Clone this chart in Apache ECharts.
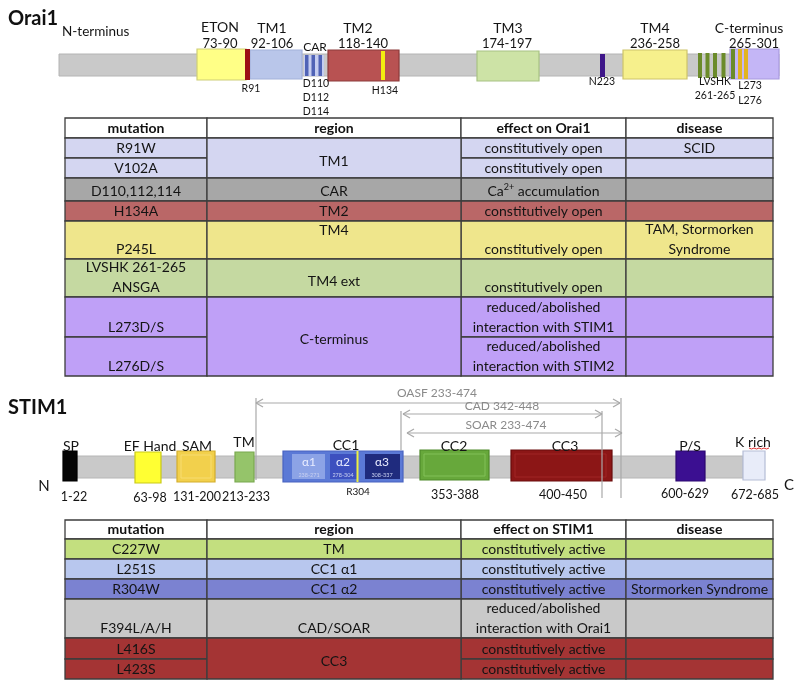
<!DOCTYPE html>
<html><head><meta charset="utf-8">
<script src="https://cdn.jsdelivr.net/npm/echarts@6/dist/echarts.min.js"></script>
<style>html,body{margin:0;padding:0;background:#fff}#c{width:800px;height:689px}</style>
</head><body><div id="c"></div>
<script>
// ================= DATA =================
// Orai1
const oraiTitle = 'Orai1';
const oraiDomainNames  = ['ETON','TM1','TM2','TM3','TM4','C-terminus'];
const oraiDomainRanges = ['73-90','92-106','118-140','174-197','236-258','265-301'];
const oraiCarSites = ['D110','D112','D114'];
const oraiTableHeader = ['mutation','region','effect on Orai1','disease'];
const oraiMutations = ['R91W','V102A','D110,112,114','H134A','P245L','LVSHK 261-265\nANSGA','L273D/S','L276D/S'];
const oraiRegions = ['TM1','CAR','TM2','TM4','TM4 ext','C-terminus'];
const oraiRegionSpans = [2,1,1,1,1,2];
const oraiEffects = ['constitutively open','constitutively open','Ca²⁺ accumulation','constitutively open','constitutively open','constitutively open','reduced/abolished\ninteraction with STIM1','reduced/abolished\ninteraction with STIM2'];
const oraiDiseases = ['SCID','','','','TAM, Stormorken\nSyndrome','','',''];

// STIM1
const stimTitle = 'STIM1';
const stimDomainNames  = ['SP','EF Hand','SAM','TM','CC1','CC2','CC3','P/S','K rich'];
const stimDomainRanges = ['1-22','63-98','131-200','213-233','','353-388','400-450','600-629','672-685'];
const stimHelixNames  = ['α1','α2','α3'];
const stimHelixRanges = ['238-271','278-304','308-337'];
const stimFragments = ['OASF 233-474','CAD 342-448','SOAR 233-474'];
const stimTableHeader = ['mutation','region','effect on STIM1','disease'];
const stimMutations = ['C227W','L251S','R304W','F394L/A/H','L416S','L423S'];
const stimRegions = ['TM','CC1 α1','CC1 α2','CAD/SOAR','CC3'];
const stimRegionSpans = [1,1,1,1,2];
const stimEffects = ['constitutively active','constitutively active','constitutively active','reduced/abolished\ninteraction with Orai1','constitutively active','constitutively active'];
const stimDiseases = ['','','Stormorken Syndrome','','',''];

// ================= LAYOUT / STYLE =================
const FONT = "Lato, 'Liberation Sans', sans-serif";
const TXT = '#141414';
const rects = [], rectStyle = [];
const segs = [], segStyle = [];
const texts = [], textStyle = [];
function R(x0,y0,x1,y1,fill,stroke,lw){ rects.push([x0,y0,x1,y1]); rectStyle.push({fill:fill||'none',stroke:stroke||null,lw:lw||1}); }
function L(x0,y0,x1,y1,color,lw){ segs.push([x0,y0,x1,y1]); segStyle.push({color:color||'#a8a8a8',lw:lw||1}); }
function T(x,y,str,opt){ texts.push([x,y]); textStyle.push(Object.assign({str:str,size:13,weight:'normal',color:TXT,align:'center'},opt||{})); }
function arrowH(x0,x1,y,c){ L(x0,y,x1,y,c,1.2); L(x0,y,x0+7,y-4,c,1.2); L(x0,y,x0+7,y+4,c,1.2); L(x1,y,x1-7,y-4,c,1.2); L(x1,y,x1-7,y+4,c,1.2); }

// ---- Orai1 diagram ----
T(8,19,oraiTitle,{size:20,weight:'bold',align:'left',color:'#111'});
T(62,32,'N-terminus',{align:'left',size:13.5});
R(59,54,779,76,'#c9c9c9','#b4b4b4');
const oraiBox = [[197,49,246,80],[250,50,302,79],[328,50,399,81],[477,51,539,81],[623,50,687,79],[730,49,779,79]];
const oraiFill = [['#ffff86','#cdcd78'],['#b9c6ea','#a3b1da'],['#b85252','#8c3a3a'],['#cde3a6','#a8c283'],['#f6f08c','#cdc46a'],['#c4b6f6','#a89ade']];
oraiBox.forEach((b,i)=>R(b[0],b[1],b[2],b[3],oraiFill[i][0],oraiFill[i][1],1.2));
R(245,49,250,80,'#9c1014');                // R91
R(304,55,324,76,'#c5cdf0');                // CAR
[305,311.5,318.5].forEach(x=>R(x,55,x+3.5,76,'#5063b6'));
R(381,51,385,80,'#f3ee10');                // H134
R(600,54,605,77,'#3e1689');                // N223
[698,705.5,713,721.5].forEach(x=>R(x,53,x+4,78,'#6b8b2a'));
R(731,49,735,79,'#6b8b2a');
[738,744].forEach(x=>R(x,49,x+4,79,'#e2b420'));
const oraiNamePos = [[220,27],[272,28],[358,28],[508,28],[655,28],[749,28]];
const oraiRangePos = [[220,44],[272,44],[363,44],[507,44],[655,44],[754,44]];
oraiDomainNames.forEach((n,i)=>T(oraiNamePos[i][0],oraiNamePos[i][1],n,{size:14}));
oraiDomainRanges.forEach((n,i)=>T(oraiRangePos[i][0],oraiRangePos[i][1],n,{size:13}));
T(315,47,'CAR',{size:12});
T(251,89,'R91',{size:10.5});
oraiCarSites.forEach((s,i)=>T(316,84+i*14,s,{size:10.5}));
T(385,91,'H134',{size:10.5});
T(602,82,'N223',{size:10.5});
T(715,82,'LVSHK',{size:10.5});
T(715,96,'261-265',{size:10.5});
T(750,86,'L273',{size:10.5});
T(750,101,'L276',{size:10.5});

// ---- table builder ----
function cellText(cx,y0,y1,str,mode,color){
  const lines = str.split('\n'), lh = 19.5;
  let yf;
  if (mode==='top') yf = y0+9.5;
  else if (mode==='mid') yf = (y0+y1)/2+3-(lines.length-1)*lh/2;
  else yf = y1-10-(lines.length-1)*lh;
  lines.forEach((ln,j)=>T(cx,yf+j*lh,ln,{size:14,color:color||TXT}));
}
function buildTable(rowEdges,colEdges,header,muts,regions,spans,regionAlign,effects,diseases,fills){
  const sc='#3d3d3d', lw=1.3;
  for (let c=0;c<4;c++){
    R(colEdges[c],rowEdges[0],colEdges[c+1],rowEdges[1],'#ffffff',sc,lw);
  }
  for (let i=0;i<muts.length;i++){
    const y0=rowEdges[i+1], y1=rowEdges[i+2];
    R(colEdges[0],y0,colEdges[1],y1,fills[i],sc,lw);
    R(colEdges[2],y0,colEdges[3],y1,fills[i],sc,lw);
    R(colEdges[3],y0,colEdges[4],y1,fills[i],sc,lw);
  }
  let ri=0;
  regions.forEach((reg,k)=>{
    const y0=rowEdges[ri+1], y1=rowEdges[ri+spans[k]+1];
    R(colEdges[1],y0,colEdges[2],y1,fills[ri],sc,lw);
    cellText((colEdges[1]+colEdges[2])/2,y0,y1,reg,regionAlign[k]);
    ri+=spans[k];
  });
  header.forEach((h,c)=>T((colEdges[c]+colEdges[c+1])/2,(rowEdges[0]+rowEdges[1])/2,h,{size:14,weight:'bold',color:'#111'}));
  for (let i=0;i<muts.length;i++){
    const y0=rowEdges[i+1], y1=rowEdges[i+2];
    cellText((colEdges[0]+colEdges[1])/2,y0,y1,muts[i],'bottom');
    cellText((colEdges[2]+colEdges[3])/2,y0,y1,effects[i],'bottom');
    if (diseases[i]) cellText((colEdges[3]+colEdges[4])/2,y0,y1,diseases[i],'bottom');
  }
}
const colEdges = [65,207,461,626,773];
buildTable([118,138,158,178,201,221,259,297,337,376],colEdges,oraiTableHeader,oraiMutations,oraiRegions,oraiRegionSpans,
  ['mid','bottom','bottom','top','mid','mid'],oraiEffects,oraiDiseases,
  ['#d4d6f1','#d4d6f1','#a7a7a7','#ba6767','#efe68c','#c5d9a1','#bfa0f7','#bfa0f7']);

// ---- STIM1 diagram ----
T(8,408,stimTitle,{size:20,weight:'bold',align:'left',color:'#111'});
const ac = '#a9a9a9';
arrowH(256,620,403,ac);
L(256,398,256,480,ac,1.2); L(621,398,621,498,ac,1.2);
arrowH(403,602,414,ac);
L(602,411,602,498,ac,1.2); L(401,411,401,450,ac,1.2);
arrowH(407,622,433,ac);
T(437,393,stimFragments[0],{size:12,color:'#8a8a8a'});
T(502,406,stimFragments[1],{size:12,color:'#8a8a8a'});
T(506,425,stimFragments[2],{size:12,color:'#8a8a8a'});

R(77,456,743,478,'#c9c9c9','#b6b6b6');
const stimBox = [[63,451,77,481],[135,452,161,483],[177,451,215,482],[235,452,254,482],[283,451,403,482],[420,450,489,480],[511,450,612,481],[676,451,705,481],[743,451,765,480]];
const stimFill = [['#050505','#000'],['#ffff33','#c9c91a'],['#f2d04c','#d3ad2c'],['#95c46a','#79a84f'],['#5b79d6','#4863c0'],['#67a83b','#4e8a2a'],['#8c1616','#6a0c0c'],['#3b0f91','#2c0870'],['#e8ecf9','#b5bdd6']];
stimBox.forEach((b,i)=>R(b[0],b[1],b[2],b[3],stimFill[i][0],stimFill[i][1],1.2));
R(181,455,211,478,null,'#f7dc70',1);
R(424,454,485,476,null,'#82c058',1);
R(515,454,606,477,null,'#a02424',1);
R(292,454,325,479,'#8ca3e6');
R(330,454,357,479,'#3d50bf');
R(365,454,400,479,'#1f2b7e');
R(356.5,451,358.5,482,'#eef040');
const helixX = [309,343,382];
stimHelixNames.forEach((h,i)=>T(helixX[i],462,h,{size:12,color:'#e8ecff'}));
stimHelixRanges.forEach((h,i)=>T(helixX[i],475.5,h,{size:5.5,color:'#c8d0f0'}));
const stimNamePos = [[71,446],[150,446],[197,446],[244,442],[346,445],[454,446],[565,446],[690,446],[753,442]];
const stimRangePos = [[74,497],[150,498],[197,497],[246,497],null,[455,495],[563,495],[685,494],[755,495]];
stimDomainNames.forEach((n,i)=>T(stimNamePos[i][0],stimNamePos[i][1],n,{size:14}));
stimDomainRanges.forEach((n,i)=>{ if(n) T(stimRangePos[i][0],stimRangePos[i][1],n,{size:12.5}); });
T(358,492,'R304',{size:10});
T(44,486,'N',{size:15});
T(789,485,'C',{size:15});
// spell-check squiggle under "rich"
for (let k=0;k<8;k++){ const x=749+k*2.5; L(x,448+(k%2),x+2.5,448+((k+1)%2),'#e03030',1); }

buildTable([520,539,559,579,599,638,659,679],colEdges,stimTableHeader,stimMutations,stimRegions,stimRegionSpans,
  ['bottom','bottom','bottom','bottom','mid'],stimEffects,stimDiseases,
  ['#c3df7f','#b8c7ee','#7b82d1','#c9c9c9','#a43434','#a43434']);

// ================= CHART =================
const chart = echarts.init(document.getElementById('c'),null,{renderer:'canvas'});
chart.setOption({
  animation:false,
  backgroundColor:'#ffffff',
  grid:{left:0,right:0,top:0,bottom:0,containLabel:false},
  xAxis:{type:'value',min:0,max:800,show:false},
  yAxis:{type:'value',min:0,max:689,inverse:true,show:false},
  series:[
    {type:'custom',silent:true,clip:false,data:rects,z:1,
     renderItem:(p,api)=>{
       const a=api.coord([api.value(0),api.value(1)]), b=api.coord([api.value(2),api.value(3)]);
       const s=rectStyle[p.dataIndex];
       return {type:'rect',shape:{x:a[0],y:a[1],width:b[0]-a[0],height:b[1]-a[1]},style:{fill:s.fill,stroke:s.stroke,lineWidth:s.lw}};
     }},
    {type:'custom',silent:true,clip:false,data:segs,z:2,
     renderItem:(p,api)=>{
       const a=api.coord([api.value(0),api.value(1)]), b=api.coord([api.value(2),api.value(3)]);
       const s=segStyle[p.dataIndex];
       return {type:'line',shape:{x1:a[0],y1:a[1],x2:b[0],y2:b[1]},style:{stroke:s.color,lineWidth:s.lw}};
     }},
    {type:'custom',silent:true,clip:false,data:texts,z:3,
     renderItem:(p,api)=>{
       const a=api.coord([api.value(0),api.value(1)]);
       const s=textStyle[p.dataIndex];
       let txt=s.str, rich;
       if (txt.indexOf('²⁺')>=0){
         txt=txt.replace('²⁺','{sup|2+}');
         rich={sup:{fontSize:9,fontFamily:FONT,fill:s.color,color:s.color,verticalAlign:'top',padding:[0,0,7,0]}};
       }
       return {type:'text',style:{x:a[0],y:a[1],text:txt,rich:rich,fill:s.color,fontSize:s.size,fontWeight:s.weight,fontFamily:FONT,align:s.align,verticalAlign:'middle'}};
     }}
  ]
});
</script></body></html>
